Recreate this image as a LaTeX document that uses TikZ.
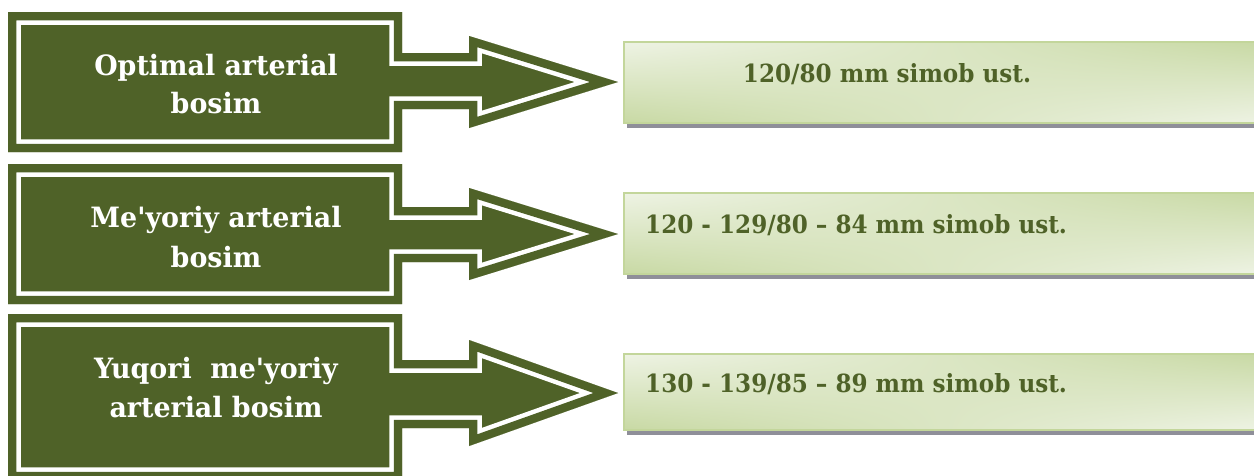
\documentclass[tikz,border=0pt]{standalone}
\usepackage{fontspec}
\setmainfont{DejaVu Serif}[Ligatures=TeXOff]
\newfontfamily\leftfont{DejaVu Serif}[Ligatures=TeXOff, FakeStretch=0.96]
\newfontfamily\rightfont{DejaVu Serif}[Ligatures=TeXOff, FakeStretch=0.924]
\usetikzlibrary{shadings}
\definecolor{oliveD}{HTML}{4F6228}
\definecolor{boxline}{HTML}{C3D69B}
\definecolor{boxlight}{HTML}{EEF3E4}
\definecolor{boxgreen}{HTML}{C8D9A4}
\definecolor{shadowgray}{HTML}{8F8F99}
\newcommand\bigarrow[7]{%
  \fill[oliveD] (8,#1) -- (402,#1) -- (402,#3) -- (469,#3) -- (469,#5) -- (618,#7) -- (469,#6) -- (469,#4) -- (402,#4) -- (402,#2) -- (8,#2) -- cycle;
  \begin{scope}
    \clip (8,#1) -- (402,#1) -- (402,#3) -- (469,#3) -- (469,#5) -- (618,#7) -- (469,#6) -- (469,#4) -- (402,#4) -- (402,#2) -- (8,#2) -- cycle;
    \draw[white, line width=25.5pt, line join=miter] (8,#1) -- (402,#1) -- (402,#3) -- (469,#3) -- (469,#5) -- (618,#7) -- (469,#6) -- (469,#4) -- (402,#4) -- (402,#2) -- (8,#2) -- cycle;
    \draw[oliveD, line width=16.5pt, line join=miter] (8,#1) -- (402,#1) -- (402,#3) -- (469,#3) -- (469,#5) -- (618,#7) -- (469,#6) -- (469,#4) -- (402,#4) -- (402,#2) -- (8,#2) -- cycle;
  \end{scope}}
\newcommand\valuebox[2]{%
  \fill[shadowgray] (627,#2+1) rectangle (1262,#2+5);
  \shade[upper left=boxlight, lower left=boxgreen, upper right=boxgreen, lower right=boxlight] (624,#1) rectangle (1262,#2);
  \draw[boxline, line width=1.5pt] (1262,#1) -- (624,#1) -- (624,#2) -- (1262,#2);}
\tikzset{
  lefttext/.style={text=white, font=\leftfont\fontsize{28}{32}\selectfont\bfseries, anchor=base, inner sep=0pt},
  righttext/.style={text=oliveD, font=\rightfont\fontsize{25}{30}\selectfont\bfseries, anchor=base, inner sep=0pt}
}
\begin{document}
\begin{tikzpicture}[x=1pt, y=-1pt]
\useasboundingbox (0,0) rectangle (1254,475);
\bigarrow{12}{152}{53}{109}{36}{128}{82}
\bigarrow{164}{304}{207}{262}{188}{280}{234}
\bigarrow{314}{480}{360}{428}{340}{446}{393}
\valuebox{42}{123}
\valuebox{193}{274}
\valuebox{354}{430}
\node[lefttext] (l1a) at (216,75) {Optimal arterial};
\node[lefttext] (l1b) at (216,113) {bosim};
\node[lefttext] (l2a) at (216,227) {Me'yoriy arterial};
\node[lefttext] (l2b) at (216,267) {bosim};
\node[lefttext] (l3a) at (216,378) {Yuqori\ \ me'yoriy};
\node[lefttext] (l3b) at (216,417) {arterial bosim};
\node[righttext] (r1) at (887,82) {120/80 mm simob ust.};
\node[righttext, anchor=base west] (r2) at (645,233) {120 - 129/80 – 84 mm simob ust.};
\node[righttext, anchor=base west] (r3) at (645,392) {130 - 139/85 – 89 mm simob ust.};
\end{tikzpicture}
\end{document}
